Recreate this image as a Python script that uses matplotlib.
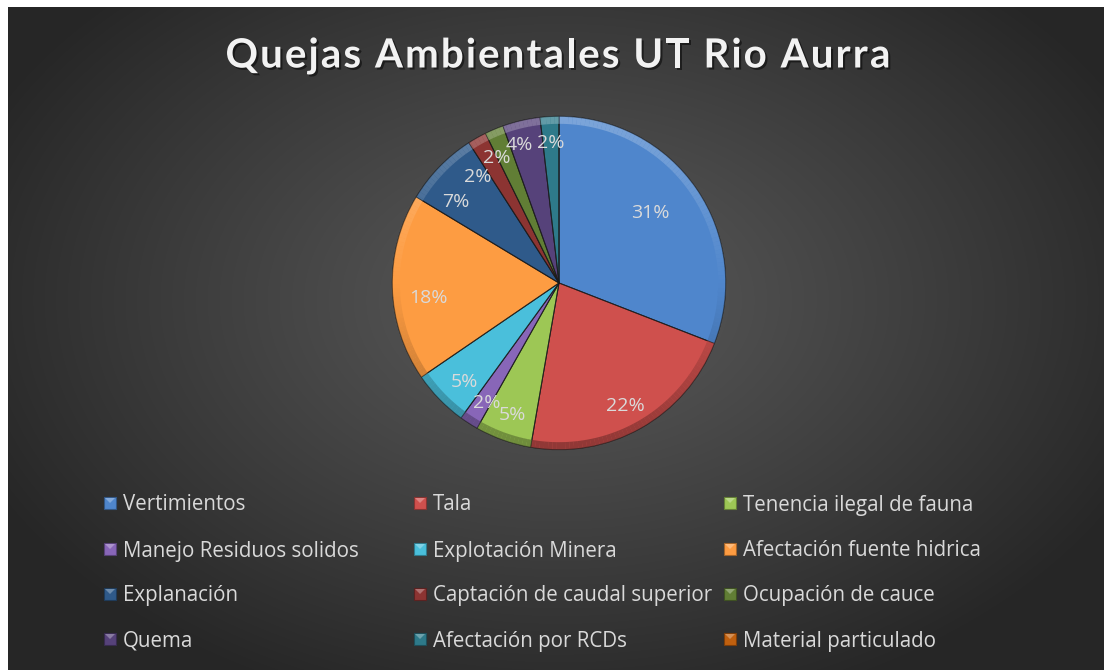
import matplotlib
matplotlib.use("Agg")
import matplotlib.pyplot as plt
import matplotlib.patches as mpatches
import matplotlib.patheffects as pe
import numpy as np

# complaint counts per category
categories = ['Vertimientos', 'Tala', 'Tenencia ilegal de fauna',
              'Manejo Residuos solidos', 'Explotación Minera', 'Afectación fuente hidrica',
              'Explanación', 'Captación de caudal superior', 'Ocupación de cauce',
              'Quema', 'Afectación por RCDs', 'Material particulado']
counts = [17, 12, 3, 1, 3, 10, 4, 1, 1, 2, 1, 0]
colors = ['#4f86cc', '#cf504d', '#9dc755', '#8866b8', '#4abfdb', '#fd9c42',
          '#2f5a8a', '#8c3432', '#617e35', '#56427a', '#2e7a8a', '#c0600f']
# label placement: radius fraction and angular nudge (deg, ccw) per slice
label_r = [0.69, 0.84, 0.84, 0.84, 0.82, 0.79, 0.79, 0.80, 0.84, 0.86, 0.84, 0.84]
label_nudge = [3, -1.3, 0, 1.8, 2, 5, 6, 8, 3.5, 2.8, 0.3, 0]

title = 'Quejas Ambientales UT Rio Aurra'

W, H = 1104, 670
fig = plt.figure(figsize=(W / 100, H / 100), dpi=100, facecolor='white')

def mix(c, other, f):
    a = np.array(matplotlib.colors.to_rgb(c))
    b = np.array(matplotlib.colors.to_rgb(other))
    return tuple(a + (b - a) * f)

# dark radial gradient backdrop (white strip on left/top)
bg = fig.add_axes([8 / W, 0, (W - 8) / W, (H - 7) / H])
bg.set_axis_off()
yy, xx = np.mgrid[7:H, 8:W]
r = np.sqrt(((xx - 560) / 640.0) ** 2 + ((yy - 300) / 430.0) ** 2)
t = np.clip(r, 0, 1) ** 1.1
c0, c1 = 0x5a / 255, 0x26 / 255
shade = c0 + (c1 - c0) * t
bg.imshow(np.dstack([shade] * 3), aspect='auto', extent=[0, 1, 0, 1])
bg.set_xlim(0, 1)
bg.set_ylim(0, 1)

# pie
cx, cy, R = 559, 283, 170
ax = fig.add_axes([(cx - R) / W, (H - cy - R) / H, 2 * R / W, 2 * R / H])
ax.set_axis_off()
ax.set_aspect('equal')
wedges, _ = ax.pie(counts, colors=colors, startangle=90, counterclock=False,
                   radius=1.0,
                   wedgeprops=dict(edgecolor=(0.1, 0.1, 0.1, 0.6), linewidth=0.7))
ax.set_xlim(-1.02, 1.02)
ax.set_ylim(-1.02, 1.02)

# bevel: lit from the top, shaded at the bottom, along the outer arc
for w, col in zip(wedges, colors):
    if w.theta2 - w.theta1 < 0.01:
        continue
    steps = np.arange(w.theta1, w.theta2, 1.5)
    for a0 in steps:
        a1 = min(a0 + 1.5, w.theta2)
        s = np.sin(np.deg2rad((a0 + a1) / 2))
        if s > 0:
            outer = mix(col, 'white', 0.25 * s)
        else:
            outer = mix(col, 'black', 0.30 * -s)
        ax.add_patch(mpatches.Wedge((0, 0), 1.0, a0, a1 + 0.05, width=0.045,
                                    facecolor=outer, edgecolor='none'))
    ax.add_patch(mpatches.Wedge((0, 0), 1.0, w.theta1, w.theta2, fill=False,
                                edgecolor=(0.1, 0.1, 0.1, 0.5), linewidth=0.7))

# percentage labels
total = sum(counts)
for w, n, rf, nd in zip(wedges, counts, label_r, label_nudge):
    if n == 0:
        continue
    mid = np.deg2rad((w.theta1 + w.theta2) / 2 + nd)
    ax.text(rf * np.cos(mid), rf * np.sin(mid), f'{round(100 * n / total)}%',
            ha='center', va='center', color='#dadada', fontsize=14, family='Open Sans')

# title with letter spacing
renderer = fig.canvas.get_renderer()
tprops = dict(fontsize=29, fontweight='bold', family='Lato')

def text_w(s):
    tt = fig.text(0, 0, s, **tprops)
    wpx = tt.get_window_extent(renderer).width
    tt.remove()
    return wpx

full_w = text_w(title)
target_w = 665
extra = (target_w - full_w) / (len(title) - 1)
xw = text_w('x')
x_start = 558 - target_w / 2
for i, ch in enumerate(title):
    if ch == ' ':
        continue
    xo = text_w(title[:i] + 'x') - xw + i * extra
    fig.text((x_start + xo) / W, 1 - 56 / H, ch, ha='left', va='center',
             color='#f2f2f2', **tprops,
             path_effects=[pe.withSimplePatchShadow(offset=(1.5, -1.5),
                                                    shadow_rgbFace='black', alpha=0.5)])

# legend, row-major 3 columns
col_x = [104, 414, 724]
row_y = [503, 549, 594, 639]
for i, (name, col) in enumerate(zip(categories, colors)):
    x = col_x[i % 3]
    y = row_y[i // 3]
    fig.patches.append(mpatches.Rectangle((x / W, (H - y - 6) / H), 12 / W, 12 / H,
                                          transform=fig.transFigure, facecolor=col,
                                          edgecolor=mix(col, 'black', 0.35), linewidth=0.8))
    fig.patches.append(mpatches.Polygon([((x + 1) / W, (H - y + 5) / H), ((x + 11) / W, (H - y + 5) / H),
                                         ((x + 6) / W, (H - y) / H)],
                                        closed=True, transform=fig.transFigure,
                                        facecolor=mix(col, 'white', 0.3), edgecolor='none'))
    fig.text((x + 19) / W, 1 - (y + 2) / H, name, ha='left', va='center', color='#d9d9d9',
             fontsize=14.8, family='Open Sans')

fig.savefig('out.png', dpi=100, facecolor='white')
